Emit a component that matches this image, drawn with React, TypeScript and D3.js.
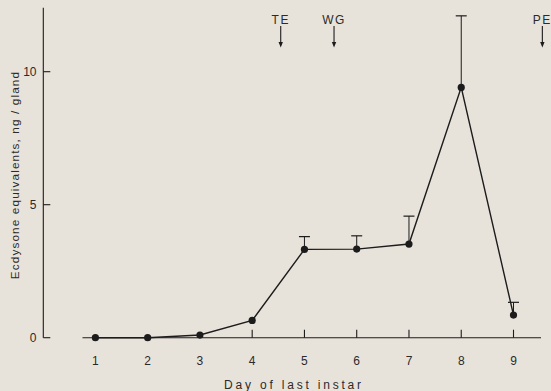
import React from "react";
import * as d3 from "d3";

const days = [1, 2, 3, 4, 5, 6, 7, 8, 9];
const values = [0, 0, 0.1, 0.65, 3.32, 3.33, 3.52, 9.41, 0.85];
const errUpper: (number | null)[] = [null, null, null, null, 3.8, 3.83, 4.57, 12.1, 1.33];
const yTicks = [0, 5, 10];
const xTicksUp = [4, 5, 6, 7, 8, 9];
const events = ["TE", "WG", "PE"];
const eventDays = [4.546, 5.566, 9.552];
const yTop = 12.4;

const W = 551;
const H = 391;
const ink = "#1c1c1c";
const textCol = "#2a2a2a";
const font = "'Liberation Sans', 'DejaVu Sans', sans-serif";

export default function App() {
  const x = d3.scaleLinear().domain([1, 9]).range([95.4, 513.5]);
  const y = d3.scaleLinear().domain([0, 10]).range([337.7, 71.7]);
  const axisX = 43.3;
  const line = d3
    .line<number>()
    .x((_, i) => x(days[i]))
    .y((v) => y(v));

  return (
    <svg
      width={W}
      height={H}
      style={{ position: "absolute", left: 0, top: 0, display: "block" }}
      fontFamily={font}
    >
      <rect x={0} y={0} width={W} height={H} fill="#e8e3da" />
      {/* y axis */}
      <line x1={axisX} x2={axisX} y1={y(0)} y2={y(yTop)} stroke={ink} strokeWidth={1.1} />
      {yTicks.map((t) => (
        <g key={t}>
          <line x1={axisX} x2={axisX + 7} y1={y(t)} y2={y(t)} stroke={ink} strokeWidth={1.1} />
          <text
            x={36.5}
            y={y(t)}
            textAnchor="end"
            dominantBaseline="central"
            fontSize={12}
            fill={textCol}
          >
            {t}
          </text>
        </g>
      ))}
      <text
        transform={`translate(15,${175}) rotate(-90)`}
        textAnchor="middle"
        dominantBaseline="central"
        fontSize={11.8}
        letterSpacing={1.1}
        fill={textCol}
      >
        Ecdysone equivalents,  ng / gland
      </text>
      {/* x axis */}
      <line x1={82.5} x2={541} y1={y(0)} y2={y(0)} stroke={ink} strokeWidth={1.1} />
      {xTicksUp.map((d) => (
        <line key={d} x1={x(d)} x2={x(d)} y1={y(0)} y2={y(0) - 8} stroke={ink} strokeWidth={1.1} />
      ))}
      {days.map((d) => (
        <text
          key={d}
          x={x(d)}
          y={361}
          textAnchor="middle"
          dominantBaseline="central"
          fontSize={12}
          fill={textCol}
        >
          {d}
        </text>
      ))}
      <text
        x={294}
        y={385}
        textAnchor="middle"
        dominantBaseline="central"
        fontSize={12}
        letterSpacing={2.8}
        fill={textCol}
      >
        Day of last instar
      </text>
      {/* error bars */}
      {errUpper.map((e, i) =>
        e == null ? null : (
          <g key={i}>
            <line x1={x(days[i])} x2={x(days[i])} y1={y(values[i])} y2={y(e)} stroke={ink} strokeWidth={1} />
            <line x1={x(days[i]) - 5.5} x2={x(days[i]) + 5.5} y1={y(e)} y2={y(e)} stroke={ink} strokeWidth={1.2} />
          </g>
        )
      )}
      {/* line */}
      <path d={line(values) || ""} fill="none" stroke={ink} strokeWidth={1.4} />
      {values.map((v, i) => (
        <circle key={i} cx={x(days[i])} cy={y(v)} r={3.6} fill={ink} />
      ))}
      {/* event arrows */}
      {events.map((ev, i) => {
        const ex = x(eventDays[i]);
        return (
          <g key={ev}>
            <text
              x={ex}
              y={20}
              textAnchor="middle"
              dominantBaseline="central"
              fontSize={12}
              letterSpacing={1.5}
              fill={textCol}
            >
              {ev}
            </text>
            <line x1={ex} x2={ex} y1={26} y2={44} stroke={ink} strokeWidth={1.1} />
            <path d={`M${ex - 2.2},${42} L${ex + 2.2},${42} L${ex},${47.5} Z`} fill={ink} />
          </g>
        );
      })}
    </svg>
  );
}
